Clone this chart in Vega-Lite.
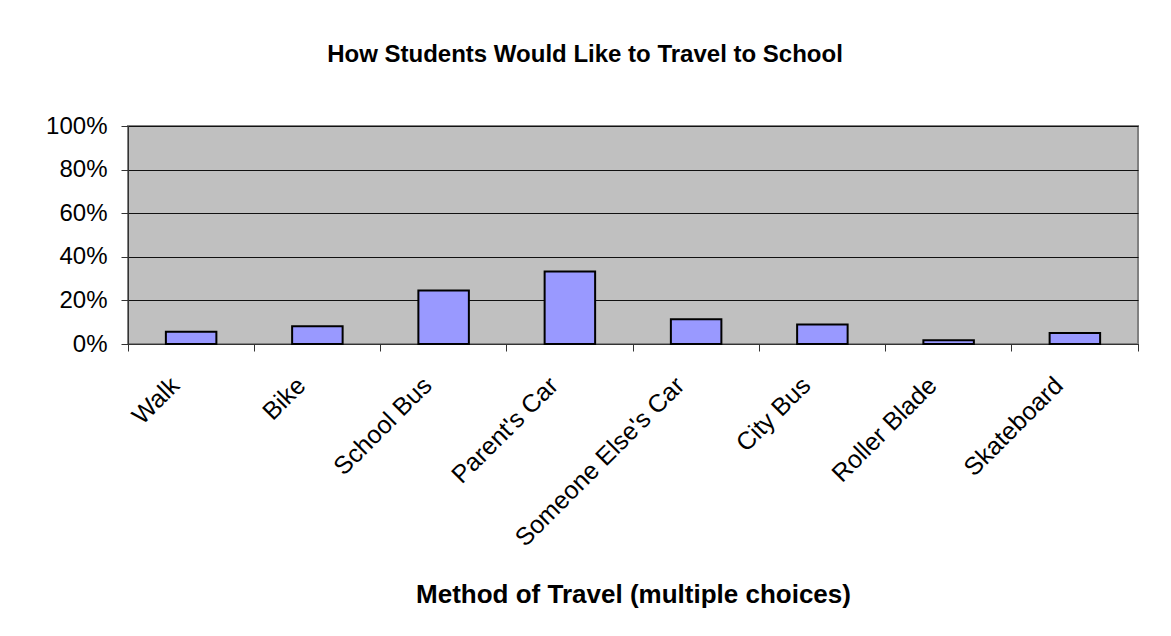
{
  "$schema": "https://vega.github.io/schema/vega-lite/v6.json",
  "autosize": "none",
  "width": 1010,
  "height": 218,
  "padding": {"left": 128, "top": 126, "right": 33, "bottom": 292},
  "background": "white",
  "title": {
    "text": "How Students Would Like to Travel to School",
    "font": "Liberation Sans",
    "fontSize": 24,
    "fontWeight": "bold",
    "color": "black",
    "anchor": "middle",
    "baseline": "alphabetic",
    "dx": -48,
    "offset": 28
  },
  "data": {
    "values": [
      {"method": "Walk", "share": 0.056},
      {"method": "Bike", "share": 0.081},
      {"method": "School Bus", "share": 0.245},
      {"method": "Parent's Car", "share": 0.333},
      {"method": "Someone Else's Car", "share": 0.113},
      {"method": "City Bus", "share": 0.089},
      {"method": "Roller Blade", "share": 0.017},
      {"method": "Skateboard", "share": 0.05}
    ]
  },
  "mark": {"type": "bar", "fill": "#9999FF", "stroke": "black", "strokeWidth": 2, "width": {"band": 0.4}},
  "encoding": {
    "x": {
      "field": "method",
      "type": "nominal",
      "sort": null,
      "scale": {"paddingInner": 0, "paddingOuter": 0},
      "axis": {
        "title": "Method of Travel (multiple choices)",
        "titleFont": "Liberation Sans",
        "titleFontSize": 26,
        "titleFontWeight": "bold",
        "titleColor": "black",
        "titleBaseline": "alphabetic",
        "titleY": 258,
        "labelFont": "Liberation Sans",
        "labelFontSize": 25,
        "labelColor": "black",
        "labelAngle": -45,
        "labelAlign": "right",
        "labelBaseline": "middle",
        "labelLimit": 0,
        "labelPadding": 30,
        "labelOffset": -16,
        "bandPosition": 1,
        "tickExtra": true,
        "tickSize": 7,
        "tickColor": "#333333",
        "domainColor": "#333333",
        "domainWidth": 1,
        "grid": false
      }
    },
    "y": {
      "field": "share",
      "type": "quantitative",
      "scale": {"domain": [0, 1], "nice": false},
      "axis": {
        "title": null,
        "format": ".0%",
        "values": [0, 0.2, 0.4, 0.6, 0.8, 1],
        "labelFont": "Liberation Sans",
        "labelFontSize": 24,
        "labelColor": "black",
        "labelPadding": 14,
        "tickSize": 7,
        "tickColor": "#333333",
        "domainColor": "#333333",
        "grid": true,
        "gridColor": "#111111",
        "gridWidth": 1
      }
    }
  },
  "config": {
    "view": {"fill": "#C0C0C0", "stroke": "#808080", "strokeWidth": 2}
  }
}
